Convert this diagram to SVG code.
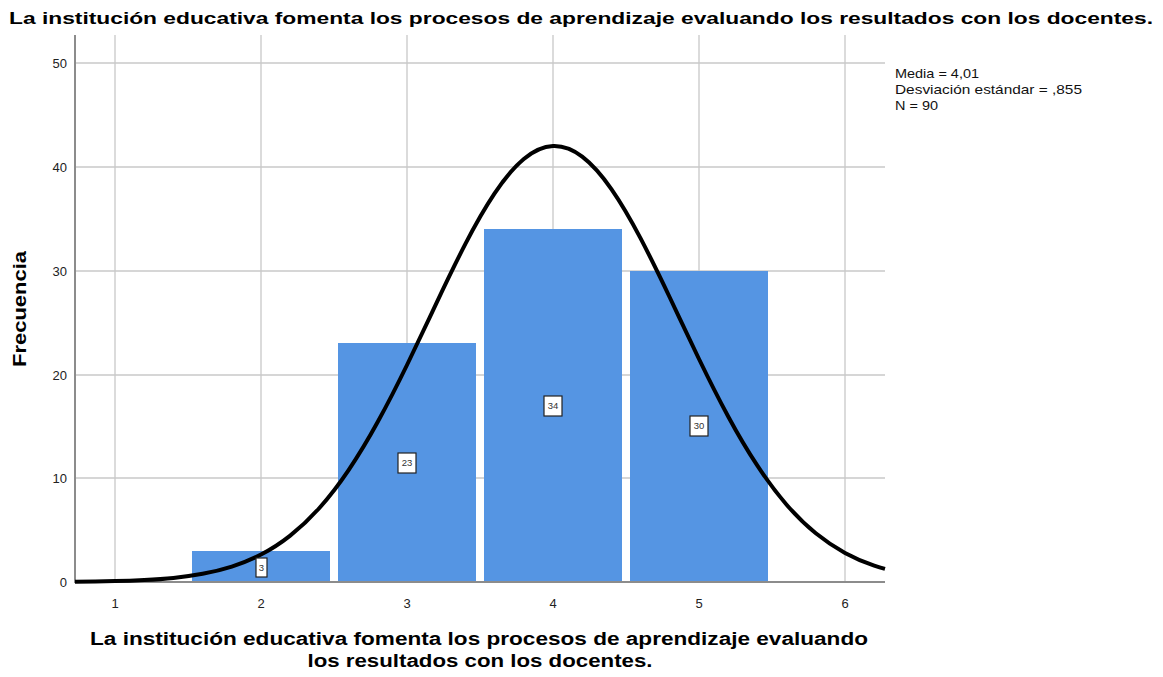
<svg xmlns="http://www.w3.org/2000/svg" width="1163" height="677" viewBox="0 0 1163 677">
<style>
.grid{stroke:#c8c8c8;stroke-width:1.3;fill:none}
.axis{stroke:#8c8c8c;stroke-width:2;fill:none}
.bar{fill:#5595e3}
.tick{font-family:"Liberation Sans",Arial,sans-serif;font-size:13px;fill:#222}
.title{font-family:"Liberation Sans",Arial,sans-serif;font-weight:bold;fill:#000}
.lbl{fill:#fff;stroke:#222;stroke-width:1.2}
.lbltxt{font-family:"Liberation Sans",Arial,sans-serif;font-size:9.5px;fill:#333;text-anchor:middle}
.leg{font-family:"Liberation Sans",Arial,sans-serif;font-size:13.5px;fill:#111}
</style>
<rect width="1163" height="677" fill="#fff"/>
<text class="title" x="581" y="24" font-size="17" text-anchor="middle" textLength="1144" lengthAdjust="spacingAndGlyphs">La institución educativa fomenta los procesos de aprendizaje evaluando los resultados con los docentes.</text>
<g id="grid">
<line class="grid" x1="115" y1="35" x2="115" y2="582"/>
<line class="grid" x1="261" y1="35" x2="261" y2="582"/>
<line class="grid" x1="407" y1="35" x2="407" y2="582"/>
<line class="grid" x1="553" y1="35" x2="553" y2="582"/>
<line class="grid" x1="699" y1="35" x2="699" y2="582"/>
<line class="grid" x1="845" y1="35" x2="845" y2="582"/>
<line class="grid" x1="75" y1="63" x2="885" y2="63"/>
<line class="grid" x1="75" y1="167" x2="885" y2="167"/>
<line class="grid" x1="75" y1="271" x2="885" y2="271"/>
<line class="grid" x1="75" y1="375" x2="885" y2="375"/>
<line class="grid" x1="75" y1="478" x2="885" y2="478"/>
</g>
<g id="bars">
<rect class="bar" x="192" y="551" width="138" height="31"/>
<rect class="bar" x="338" y="343" width="138" height="239"/>
<rect class="bar" x="484" y="229" width="138" height="353"/>
<rect class="bar" x="630" y="271" width="138" height="311"/>
</g>
<g id="axes">
<line class="axis" x1="75" y1="35" x2="75" y2="583"/>
<line class="axis" x1="74" y1="582" x2="885" y2="582"/>
</g>
<g id="yticks" class="tick" text-anchor="end">
<text x="67" y="68">50</text>
<text x="67" y="172">40</text>
<text x="67" y="276">30</text>
<text x="67" y="380">20</text>
<text x="67" y="483">10</text>
<text x="67" y="587">0</text>
</g>
<g id="xticks" class="tick" text-anchor="middle">
<text x="115" y="608">1</text>
<text x="261" y="608">2</text>
<text x="407" y="608">3</text>
<text x="553" y="608">4</text>
<text x="699" y="608">5</text>
<text x="845" y="608">6</text>
</g>
<g id="curve">
<path fill="none" stroke="#000" stroke-width="4" stroke-linejoin="round" d="M75,581.7 C88.3,581.6 101.7,581.4 115,581.1 C124.7,580.86 134.5,580.5 144.2,580 C153.9,579.5 163.7,578.9 173.4,577.9 C183.1,576.9 192.9,575.6 202.6,573.8 C212.3,572 222.1,569.7 231.8,566.6 C241.5,563.5 251.3,559.5 261,554.5 C270.7,549.5 280.5,543.3 290.2,535.6 C299.9,527.9 309.7,518.9 319.4,508 C329.1,497.1 338.9,484.5 348.6,470.1 C358.3,455.7 368.1,439.5 377.8,421.8 C387.5,404.1 397.3,385 407,365 C416.7,345 426.5,324.2 436.2,303.6 C445.9,283 455.7,262.7 465.4,243.9 C475.1,225.1 484.9,207.9 494.6,193.4 C504.3,178.9 514.1,167.1 523.8,159 C533.5,150.9 543.3,146.4 553,146 C562.7,145.6 572.5,149.2 582.2,156.6 C591.9,164 601.7,175.1 611.4,189.1 C621.1,203.1 630.9,219.9 640.6,238.4 C650.3,256.9 660.1,277 669.8,297.5 C679.5,318 689.3,338.9 699,359 C708.7,379.1 718.5,398.5 728.2,416.5 C737.9,434.5 747.7,451 757.4,465.7 C767.1,480.4 776.9,493.5 786.6,504.7 C796.3,515.9 806.1,525.4 815.8,533.3 C825.5,541.2 835.3,547.6 845,552.9 C854.7,558.2 864.5,562.3 874.2,565.6 C877.8,566.8 881.4,567.9 885,568.9"/>
</g>
<g id="labels">
<g id="lbl3"><rect class="lbl" x="256" y="558" width="11" height="19"/><text class="lbltxt" x="261.5" y="571">3</text></g>
<g id="lbl23"><rect class="lbl" x="398" y="453" width="18" height="20"/><text class="lbltxt" x="407" y="466">23</text></g>
<g id="lbl34"><rect class="lbl" x="544" y="396" width="18" height="20"/><text class="lbltxt" x="553" y="409">34</text></g>
<g id="lbl30"><rect class="lbl" x="690" y="416" width="18" height="20"/><text class="lbltxt" x="699" y="429">30</text></g>
</g>
<g id="legend" class="leg">
<text x="895" y="78" textLength="84" lengthAdjust="spacingAndGlyphs">Media = 4,01</text>
<text x="895" y="94" textLength="187" lengthAdjust="spacingAndGlyphs">Desviación estándar = ,855</text>
<text x="895" y="110" textLength="43" lengthAdjust="spacingAndGlyphs">N = 90</text>
</g>
<text class="title" font-size="19" transform="translate(26,309) rotate(-90)" text-anchor="middle" textLength="116" lengthAdjust="spacingAndGlyphs">Frecuencia</text>
<g id="xtitle" class="title" font-size="17.5" text-anchor="middle">
<text x="479" y="645" textLength="778" lengthAdjust="spacingAndGlyphs">La institución educativa fomenta los procesos de aprendizaje evaluando</text>
<text x="480" y="667" textLength="345" lengthAdjust="spacingAndGlyphs">los resultados con los docentes.</text>
</g>
</svg>
